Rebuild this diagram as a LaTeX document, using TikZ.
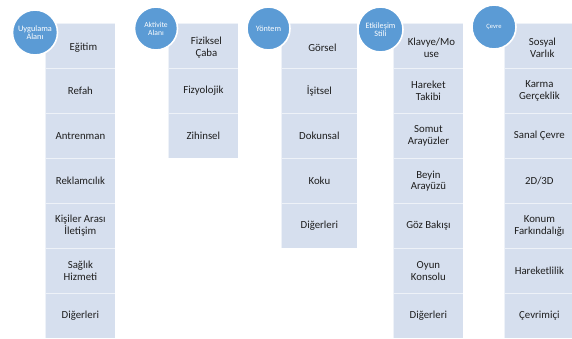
\documentclass[tikz,border=0pt]{standalone}
\usepackage{fontspec}
\setmainfont{Carlito}
\definecolor{boxfill}{RGB}{214,223,238}
\definecolor{circfill}{RGB}{91,155,213}
\definecolor{txt}{RGB}{30,30,30}
\newcommand\mkcol[4]{%
  \foreach \t [count=\i] in {#4} {
    \pgfmathsetmacro\dx{(\i==1)*3}
    \pgfmathsetmacro\dy{(\i==1)*2}
    \node[cell, minimum width=#3pt] (#1r\i) at (#2, {23+45*(\i-1)}) {};
    \node[celltext, xshift=\dx pt, yshift=-\dy pt] (#1t\i) at (#1r\i.center) {\t};
  }}
\begin{document}
\begin{tikzpicture}[x=1pt,y=-1pt,
  cell/.style={rectangle, fill=boxfill, draw=white, draw opacity=0.6, line width=0.8pt,
    minimum height=45pt, inner sep=0pt, anchor=north west},
  celltext/.style={inner sep=0pt, align=center, text=txt, font=\fontsize{10.8}{11.5}\selectfont},
  head/.style={circle, fill=circfill, draw=white, line width=1.6pt, text=white,
    align=center, inner sep=0pt}]
\useasboundingbox (0,0) rectangle (572,338);
\clip (0,0) rectangle (572,338);
\fill[white] (0,0) rectangle (572,338);
\mkcol{a}{45}{70}{Eğitim, Refah, Antrenman, Reklamcılık, {Kişiler Arası\\İletişim}, {Sağlık\\Hizmeti}, Diğerleri}
\mkcol{b}{168}{70}{{Fiziksel\\Çaba}, Fizyolojik, Zihinsel}
\mkcol{c}{281}{76}{Görsel, İşitsel, Dokunsal, Koku, Diğerleri}
\mkcol{d}{393}{70}{{Klavye/Mo\\use}, {Hareket\\Takibi}, {Somut\\Arayüzler}, {Beyin\\Arayüzü}, Göz Bakışı, {Oyun\\Konsolu}, Diğerleri}
\mkcol{e}{504}{70}{{Sosyal\\Varlık}, {Karma\\Gerçeklik}, Sanal Çevre, 2D/3D, {Konum\\Farkındalığı}, Hareketlilik, Çevrimiçi}
\node[head, minimum size=45pt, font=\fontsize{8.3}{8.5}\selectfont] (h1) at (35,32.5) {Uygulama\\Alanı};
\node[head, minimum size=43pt, font=\fontsize{7.6}{8.2}\selectfont] (h2) at (156,28.5) {Aktivite\\Alanı};
\node[head, minimum size=43pt, font=\fontsize{8.2}{8.5}\selectfont] (h3) at (268.5,28.5) {Yöntem};
\node[head, minimum size=45pt, font=\fontsize{8.2}{8.5}\selectfont] (h4) at (380.5,29.5) {Etkileşim\\Stili};
\node[head, minimum size=44pt, font=\fontsize{6.5}{7}\selectfont] (h5) at (494,27) {Çevre};
\end{tikzpicture}
\end{document}
